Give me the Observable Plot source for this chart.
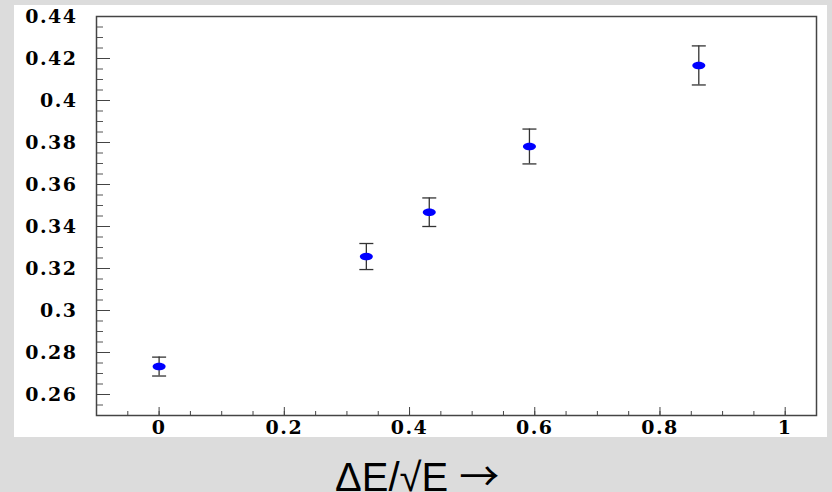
<!DOCTYPE html>
<html>
<head>
<meta charset="utf-8">
<script src="https://cdn.jsdelivr.net/npm/d3@7"></script>
<script src="https://cdn.jsdelivr.net/npm/@observablehq/plot@0.6"></script>
<style>
  html, body { margin: 0; padding: 0; background: #dcdcdc; width: 832px; height: 492px; overflow: hidden; }
  #chart { position: absolute; left: 14px; top: 5px; }
  #chart svg text { letter-spacing: 1.5px; font-family: "DejaVu Serif", serif; font-weight: bold; font-size: 19px; }
  #xlabel { position: absolute; left: 335px; top: 457px; font-family: "Liberation Sans", Arial, sans-serif; font-size: 40px; line-height: 34px; height: 34px; color: #000; white-space: nowrap; }
  #xlabel .arr { font-family: "Noto Sans CJK SC", "DejaVu Sans", sans-serif; font-size: 40px; }
</style>
</head>
<body>
<div id="chart"></div>
<div id="xlabel">ΔE/√E <span class="arr">→</span></div>
<script>
// Data
const xValues = [0, 0.331, 0.4315, 0.5915, 0.862];
const yValues = [0.2733, 0.3257, 0.3468, 0.3781, 0.4167];
const yErrors = [0.0045, 0.0062, 0.0068, 0.0083, 0.0093];

// Axis ticks
const xMajorTicks = [0, 0.2, 0.4, 0.6, 0.8, 1];
const xTickLabels = ["0", "0.2", "0.4", "0.6", "0.8", "1"];
const yMajorTicks = [0.26, 0.28, 0.30, 0.32, 0.34, 0.36, 0.38, 0.40, 0.42, 0.44];
const yTickLabels = ["0.26", "0.28", "0.3", "0.32", "0.34", "0.36", "0.38", "0.4", "0.42", "0.44"];
const xMinorTicks = d3.range(-0.1, 1.0501, 0.05).map(v => +v.toFixed(3));
const yMinorTicks = d3.range(0.25, 0.4401, 0.005).map(v => +v.toFixed(4));

const data = xValues.map((x, i) => ({x, y: yValues[i], e: yErrors[i]}));

const ellipse = {
  draw(ctx) {
    const rx = 6.5, ry = 3.8, k = 0.5523;
    ctx.moveTo(rx, 0);
    ctx.bezierCurveTo(rx, ry * k, rx * k, ry, 0, ry);
    ctx.bezierCurveTo(-rx * k, ry, -rx, ry * k, -rx, 0);
    ctx.bezierCurveTo(-rx, -ry * k, -rx * k, -ry, 0, -ry);
    ctx.bezierCurveTo(rx * k, -ry, rx, -ry * k, rx, 0);
    ctx.closePath();
  }
};
const cap = {
  draw(ctx) { ctx.moveTo(-7, 0); ctx.lineTo(7, 0); }
};

const xFmt = v => xTickLabels[xMajorTicks.findIndex(t => Math.abs(t - v) < 1e-9)];
const yFmt = v => yTickLabels[yMajorTicks.findIndex(t => Math.abs(t - v) < 1e-9)];

const textOpts = {fontFamily: "DejaVu Serif", fontWeight: "bold", fontSize: 19, fill: "#000"};

const chart = Plot.plot({
  width: 813,
  height: 432,
  marginLeft: 82,
  marginTop: 11,
  marginRight: 11,
  marginBottom: 22,
  style: {background: "white", fontFamily: "DejaVu Serif", fontSize: "19px", overflow: "visible"},
  x: {domain: [-0.1, 1.05]},
  y: {domain: [0.25, 0.44]},
  marks: [
    Plot.axisY({ticks: yMinorTicks, tickSize: -7, tickFormat: () => "", stroke: "#555", label: null}),
    Plot.axisY({ticks: yMajorTicks, tickSize: -14, tickFormat: () => "", stroke: "#444", label: null}),
    Plot.axisY({ticks: yMajorTicks, tickSize: 0, tickPadding: 19, tickFormat: yFmt, label: null, ...textOpts}),
    Plot.axisX({ticks: xMinorTicks, tickSize: -4, tickFormat: () => "", stroke: "#444", label: null}),
    Plot.axisX({ticks: xMajorTicks, tickSize: 0.001, tickFormat: () => "", stroke: "#444", label: null}),
    Plot.axisX({ticks: xMajorTicks, tickSize: -8, tickFormat: () => "", stroke: "#444", label: null}),
    Plot.axisX({ticks: xMajorTicks, tickSize: 0, tickPadding: 5, tickFormat: xFmt, label: null, ...textOpts}),
    Plot.frame({stroke: "#444", strokeWidth: 1.5}),
    Plot.ruleX(data, {x: "x", y1: d => d.y - d.e, y2: d => d.y + d.e, stroke: "#333", strokeWidth: 1.3}),
    Plot.dot(data, {x: "x", y: d => d.y + d.e, symbol: cap, stroke: "#333", strokeWidth: 1.3}),
    Plot.dot(data, {x: "x", y: d => d.y - d.e, symbol: cap, stroke: "#333", strokeWidth: 1.3}),
    Plot.dot(data, {x: "x", y: "y", symbol: ellipse, fill: "#0000ff", stroke: "none"})
  ]
});
document.getElementById("chart").appendChild(chart);
</script>
</body>
</html>
